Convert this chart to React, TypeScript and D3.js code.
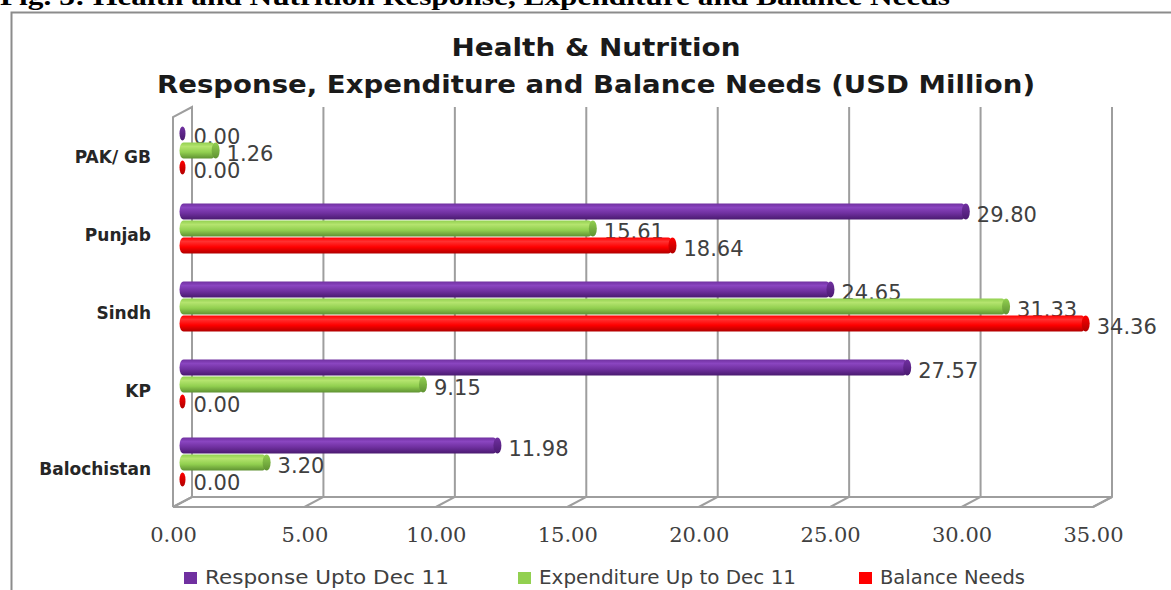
import React, { useRef, useEffect } from 'react';
import * as d3 from 'd3';

// Data
const categories = ['PAK/ GB', 'Punjab', 'Sindh', 'KP', 'Balochistan'];
const seriesNames = ['Response Upto Dec 11', 'Expenditure Up to Dec 11', 'Balance Needs'];
const response = [0, 29.8, 24.65, 27.57, 11.98];
const expenditure = [1.26, 15.61, 31.33, 9.15, 3.2];
const balance = [0, 18.64, 34.36, 0, 0];
const xTicks = [0, 5, 10, 15, 20, 25, 30, 35];

const colors = [
  { light: '#8a45c0', mid: '#7030a0', dark: '#4a1a70' },
  { light: '#b4e46e', mid: '#92d050', dark: '#5f9232' },
  { light: '#ff3030', mid: '#ff0000', dark: '#b00000' },
];

const App = () => {
  const svgRef = useRef<SVGSVGElement>(null);

  useEffect(() => {
    if (!svgRef.current) return;
    const svg = d3.select(svgRef.current);
    svg.selectAll('*').remove();

    const width = 1171;
    const height = 590;
    svg.attr('width', width).attr('height', height).style('background', '#fff');

    const values = [response, expenditure, balance];

    // 3D box: front plane, back plane, bars halfway in depth
    const depthX = 19;
    const depthY = -10;
    const xFront = d3.scaleLinear().domain([0, 35]).range([173, 1093]);
    const xBack = d3.scaleLinear().domain([0, 35]).range([173 + depthX, 1093 + depthX]);
    const xBar = d3.scaleLinear().domain([0, 35]).range([182.5, 1102.5]);
    const floorY = 507;
    const topY = 117;

    const y = d3.scaleBand().domain(categories).range([111.5, 501.5]).padding(0);
    const groupH = 51;
    const ySub = d3.scaleBand().domain(seriesNames).range([0, groupH]).padding(0);

    // gradients
    const defs = svg.append('defs');
    colors.forEach((c, i) => {
      const g = defs.append('linearGradient').attr('id', `bar${i}`)
        .attr('x1', 0).attr('y1', 0).attr('x2', 0).attr('y2', 1);
      g.append('stop').attr('offset', '0%').attr('stop-color', c.mid);
      g.append('stop').attr('offset', '25%').attr('stop-color', c.light);
      g.append('stop').attr('offset', '60%').attr('stop-color', c.mid);
      g.append('stop').attr('offset', '100%').attr('stop-color', c.dark);
      const e = defs.append('linearGradient').attr('id', `cap${i}`)
        .attr('x1', 0).attr('y1', 0).attr('x2', 0).attr('y2', 1);
      e.append('stop').attr('offset', '0%').attr('stop-color', c.mid);
      e.append('stop').attr('offset', '100%').attr('stop-color', c.dark);
    });

    // page header (cut at the top, as in the source)
    svg.append('text')
      .attr('x', 0).attr('y', 5)
      .attr('font-family', 'Liberation Serif')
      .attr('font-weight', 'bold')
      .attr('font-size', 26)
      .attr('textLength', 950)
      .attr('lengthAdjust', 'spacingAndGlyphs')
      .text('Fig. 3: Health and Nutrition Response, Expenditure and Balance Needs');

    // frame
    svg.append('path')
      .attr('d', `M11.5,${height} L11.5,12.5 L${width},12.5`)
      .attr('fill', 'none').attr('stroke', '#8c8c8c').attr('stroke-width', 2);

    // titles
    svg.append('text')
      .attr('x', 596).attr('y', 56)
      .attr('text-anchor', 'middle')
      .attr('font-family', 'DejaVu Sans').attr('font-weight', 'bold')
      .attr('font-size', 25).attr('fill', '#1a1a1a')
      .attr('textLength', 289).attr('lengthAdjust', 'spacingAndGlyphs')
      .text('Health & Nutrition');
    svg.append('text')
      .attr('x', 596).attr('y', 93)
      .attr('text-anchor', 'middle')
      .attr('font-family', 'DejaVu Sans').attr('font-weight', 'bold')
      .attr('font-size', 25).attr('fill', '#1a1a1a')
      .attr('textLength', 878).attr('lengthAdjust', 'spacingAndGlyphs')
      .text('Response, Expenditure and Balance Needs (USD Million)');

    // walls and grid
    const grid = svg.append('g').attr('fill', 'none').attr('stroke', '#9e9e9e').attr('stroke-width', 2);
    grid.append('path')
      .attr('d', `M${xFront(0)},${floorY} L${xFront(0)},${topY} L${xBack(0)},${topY + depthY} L${xBack(0)},${floorY + depthY}`)
      .attr('fill', '#fff');
    grid.append('path')
      .attr('d', `M${xFront(0)},${floorY} L${xFront(35)},${floorY} L${xBack(35)},${floorY + depthY} L${xBack(0)},${floorY + depthY} Z`)
      .attr('fill', '#fff');
    grid.selectAll('.gl')
      .data(xTicks)
      .enter()
      .append('path')
      .attr('d', d => `M${xBack(d)},${topY + depthY} L${xBack(d)},${floorY + depthY} L${xFront(d)},${floorY}`);

    // bars
    const barsG = svg.append('g');
    categories.forEach((cat, ci) => {
      const y0 = (y(cat) as number) + y.bandwidth() / 2 - groupH / 2;
      seriesNames.forEach((s, si) => {
        const v = values[si][ci];
        const by = y0 + (ySub(s) as number);
        const h = ySub.bandwidth();
        const x0 = xBar(0);
        const x1 = xBar(v);
        const cy = by + h / 2;
        if (v > 0) {
          barsG.append('rect')
            .attr('x', x0 - 3).attr('y', by + 0.5)
            .attr('width', x1 - x0 + 3).attr('height', h - 1)
            .attr('rx', 4).attr('ry', (h - 1) / 2)
            .attr('fill', `url(#bar${si})`);
          barsG.append('ellipse')
            .attr('cx', x1).attr('cy', cy)
            .attr('rx', 4).attr('ry', (h - 1) / 2)
            .attr('fill', `url(#cap${si})`);
        } else {
          barsG.append('ellipse')
            .attr('cx', x0).attr('cy', cy)
            .attr('rx', 3).attr('ry', (h - 3) / 2)
            .attr('fill', `url(#cap${si})`);
        }
        barsG.append('text')
          .attr('x', x1 + 11).attr('y', cy + 10)
          .attr('font-family', 'DejaVu Sans').attr('font-size', 21)
          .attr('fill', '#404040')
          .text(v.toFixed(2));
      });
    });

    // category labels
    svg.append('g')
      .selectAll('text')
      .data(categories)
      .enter()
      .append('text')
      .attr('x', 151)
      .attr('y', d => (y(d) as number) + y.bandwidth() / 2 + 12)
      .attr('text-anchor', 'end')
      .attr('font-family', 'DejaVu Sans').attr('font-weight', 'bold')
      .attr('font-size', 17).attr('fill', '#262626')
      .text(d => d);

    // x axis labels
    const xAxis = d3.axisBottom(xFront)
      .tickValues(xTicks)
      .tickSize(0)
      .tickPadding(0)
      .tickFormat(d => (d as number).toFixed(2));
    const axisG = svg.append('g')
      .attr('transform', `translate(0,527)`)
      .call(xAxis);
    axisG.select('.domain').remove();
    axisG.selectAll('.tick text')
      .attr('font-family', 'DejaVu Serif')
      .attr('font-size', 21)
      .attr('fill', '#404040');

    // legend
    const legendX = [184, 518, 859];
    const legendW = [244, 257, 145];
    const legend = svg.append('g');
    seriesNames.forEach((s, i) => {
      legend.append('rect')
        .attr('x', legendX[i]).attr('y', 572)
        .attr('width', 13).attr('height', 12)
        .attr('fill', colors[i].mid);
      legend.append('text')
        .attr('x', legendX[i] + 21).attr('y', 584)
        .attr('font-family', 'DejaVu Sans').attr('font-size', 20)
        .attr('fill', '#404040')
        .attr('textLength', legendW[i]).attr('lengthAdjust', 'spacingAndGlyphs')
        .text(s);
    });
  }, []);

  return (
    <div style={{ position: 'absolute', left: 0, top: 0 }}>
      <svg ref={svgRef} style={{ display: 'block' }}></svg>
    </div>
  );
};

export default App;
